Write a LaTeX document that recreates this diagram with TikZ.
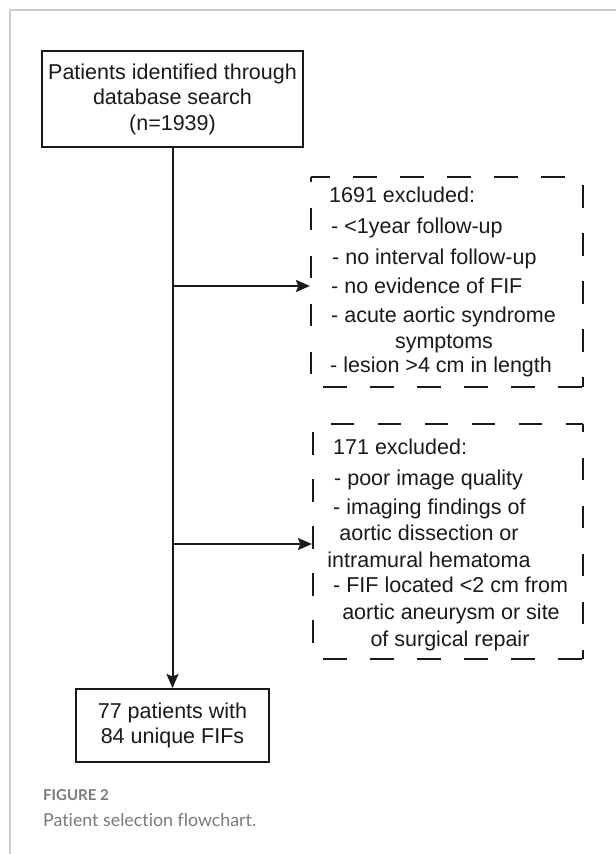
\documentclass[tikz,border=0pt]{standalone}
\usepackage{fontspec}
\setmainfont{Liberation Sans}
\newfontfamily\capfont[Ligatures=NoCommon]{Lato}
\usetikzlibrary{arrows.meta}
\definecolor{ink}{HTML}{1A1A1A}
\definecolor{framegray}{HTML}{CCCCCC}
\definecolor{capgray}{HTML}{7A7A7A}
\tikzset{
  solidbox/.style={draw=ink, line width=2bp, inner sep=0pt, fill=white, text=ink,
    font=\fontsize{21.5bp}{25.5bp}\selectfont, align=center},
  dregion/.style={inner sep=0pt, outer sep=1.1bp},
  dside/.style={draw=ink, line width=2.2bp},
  txt/.style={inner sep=0pt, text=ink, font=\fontsize{21.5bp}{25.5bp}\selectfont, anchor=base west},
  ctxt/.style={inner sep=0pt, text=ink, font=\fontsize{21.5bp}{25.5bp}\selectfont, anchor=base},
  arr/.style={draw=ink, line width=2bp, -{Stealth[length=14bp,width=12bp,inset=2.5bp]}},
  frame/.style={draw=framegray, line width=1.5bp}
}
\begin{document}
\begin{tikzpicture}[x=1bp, y=-1bp]
\useasboundingbox (0,0) rectangle (616,854);
\fill[white] (0,0) rectangle (616,854);
% frame
\coordinate (fc) at (10,10);
\coordinate (fr) at (616,10);
\coordinate (fb) at (10,854);
\draw[frame] (fb) -- (fc) -- (fr);

% main boxes
\node[solidbox, minimum width=260bp, minimum height=96bp] (top) at (172.5,99)
  {Patients identified through\\database search\\(n=1939)};
\node[solidbox, minimum width=193bp, minimum height=73bp] (bot) at (172.5,725.5)
  {77 patients with\\84 unique FIFs};

% dashed exclusion boxes (regions + dashed sides)
\node[dregion, minimum width=272bp, minimum height=210bp] (ex1) at (447,282) {};
\node[dregion, minimum width=270bp, minimum height=235bp] (ex2) at (448,541.5) {};
\coordinate (e1sw) at (311,387); \coordinate (e1se) at (583,387);
\coordinate (e1ne) at (583,177); \coordinate (e1nw) at (311,177);
\draw[dside, dash pattern=on 24bp off 23bp, dash phase=35bp] (e1sw) -- (e1se);
\draw[dside, dash pattern=on 23bp off 25bp, dash phase=13bp] (e1se) -- (e1ne);
\draw[dside, dash pattern=on 24bp off 23bp, dash phase=29bp] (e1ne) -- (e1nw);
\draw[dside, dash pattern=on 22bp off 26bp, dash phase=17bp] (e1nw) -- (e1sw);
\coordinate (e2sw) at (313,659); \coordinate (e2se) at (583,659);
\coordinate (e2ne) at (583,424); \coordinate (e2nw) at (313,424);
\draw[dside, dash pattern=on 23bp off 24bp, dash phase=29bp] (e2nw) -- (e2ne);
\draw[dside, dash pattern=on 22bp off 26bp, dash phase=14bp] (e2ne) -- (e2se);
\draw[dside, dash pattern=on 24bp off 23bp, dash phase=37bp] (e2sw) -- (e2se);
\draw[dside, dash pattern=on 23bp off 24bp, dash phase=39bp] (e2nw) -- (e2sw);

% texts box 1
\node[txt] (a1) at (329,202) {1691 excluded:};
\node[txt] (a2) at (331,233) {- <1year follow-up};
\node[txt] (a3) at (332,264) {- no interval follow-up};
\node[txt] (a4) at (331,293) {- no evidence of FIF};
\node[txt] (a5) at (331,322) {- acute aortic syndrome};
\node[ctxt] (a6) at (444,348) {symptoms};
\node[txt] (a7) at (330,372) {- lesion >4 cm in length};

% texts box 2
\node[txt] (b1) at (333,454) {171 excluded:};
\node[txt] (b2) at (334,485) {- poor image quality};
\node[txt] (b3) at (333,514) {- imaging findings of};
\node[ctxt] (b4) at (429,540) {aortic dissection or};
\node[ctxt] (b5) at (429,567) {intramural hematoma};
\node[txt] (b6) at (333,592) {- FIF located <2 cm from};
\node[ctxt] (b7) at (451,619) {aortic aneurysm or site};
\node[ctxt] (b8) at (450,646) {of surgical repair};

% connectors
\coordinate (j1) at (172.5,286);
\coordinate (j2) at (172.5,544);
\draw[arr] (top.south) -- (bot.north);
\draw[arr] (j1) -- (ex1.west |- j1);
\draw[arr] (j2) -- (ex2.west |- j2);

% caption
\node[inner sep=0pt, anchor=base west, text=capgray, font=\capfont\bfseries\fontsize{15bp}{17bp}\selectfont] (fig) at (43,800) {FIGURE 2};
\node[inner sep=0pt, anchor=base west, text=capgray, font=\capfont\fontsize{17.8bp}{21bp}\selectfont] (cap) at (43,826) {Patient selection flowchart.};
\end{tikzpicture}
\end{document}
